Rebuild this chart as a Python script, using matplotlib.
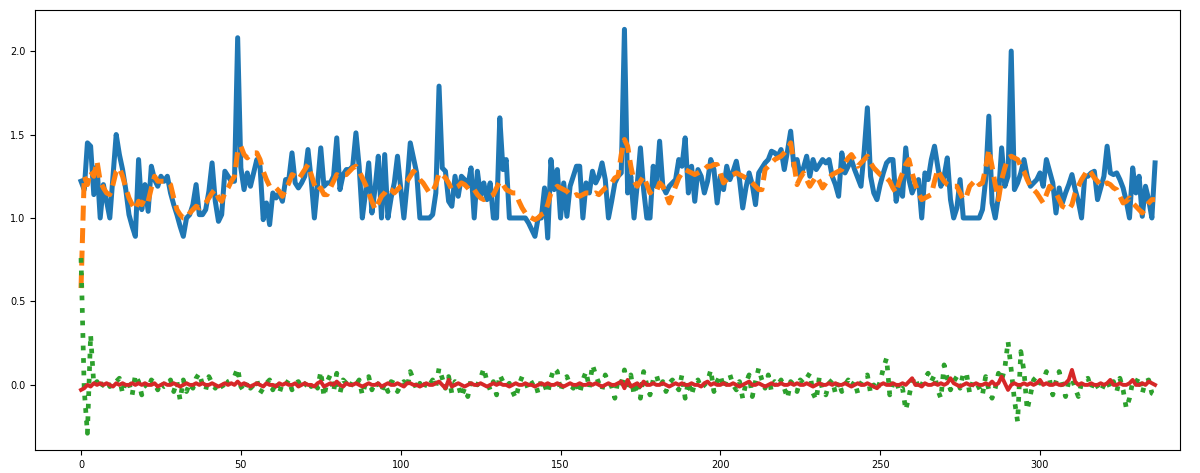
import matplotlib
matplotlib.use("Agg")
import matplotlib.pyplot as plt
import numpy as np

# observed series (blue)
observed = [
    1.22, 1.17, 1.45, 1.43, 1.14, 1.31, 1.00, 1.20, 1.10, 1.00,
    1.25, 1.50, 1.38, 1.29, 1.17, 1.02, 0.95, 0.89, 1.35, 1.05,
    1.20, 1.04, 1.31, 1.23, 1.19, 1.25, 1.22, 1.25, 1.15, 1.08,
    1.02, 0.95, 0.89, 1.00, 1.02, 1.08, 1.20, 1.02, 1.02, 1.05,
    1.16, 1.33, 1.10, 0.98, 1.02, 1.28, 1.25, 1.22, 1.22, 2.08,
    1.30, 1.17, 1.27, 1.19, 1.27, 1.35, 1.31, 0.99, 1.09, 0.96,
    1.15, 1.12, 1.15, 1.10, 1.23, 1.23, 1.39, 1.21, 1.18, 1.21,
    1.25, 1.41, 1.23, 1.00, 1.20, 1.42, 1.19, 1.21, 1.21, 1.25,
    1.48, 1.17, 1.26, 1.29, 1.29, 1.31, 1.51, 1.31, 1.00, 1.15,
    1.33, 1.03, 1.18, 1.37, 1.00, 1.38, 1.00, 1.12, 1.21, 1.37,
    1.18, 1.00, 1.20, 1.45, 1.36, 1.27, 1.00, 1.00, 1.00, 1.00,
    1.02, 1.15, 1.79, 1.30, 1.28, 1.10, 1.07, 1.25, 1.13, 1.25,
    1.23, 1.19, 1.30, 1.00, 1.28, 1.13, 1.21, 1.11, 1.21, 1.00,
    1.00, 1.60, 1.29, 1.35, 1.00, 1.00, 1.00, 1.00, 1.00, 1.00,
    0.97, 0.93, 0.89, 1.00, 1.00, 1.18, 0.88, 1.35, 1.17, 1.29,
    1.00, 1.21, 1.01, 1.19, 1.25, 1.31, 1.31, 1.00, 1.21, 1.15,
    1.28, 1.21, 1.25, 1.33, 1.23, 1.00, 1.10, 1.21, 1.25, 1.27,
    2.13, 1.15, 1.25, 1.00, 1.20, 1.42, 1.17, 1.00, 1.00, 1.31,
    1.19, 1.46, 1.19, 1.15, 1.19, 1.21, 1.23, 1.35, 1.31, 1.48,
    1.15, 1.31, 1.10, 1.29, 1.25, 1.15, 1.22, 1.35, 1.29, 1.09,
    1.25, 1.17, 1.31, 1.23, 1.28, 1.34, 1.23, 1.06, 1.18, 1.27,
    1.20, 1.08, 1.27, 1.30, 1.33, 1.35, 1.40, 1.39, 1.37, 1.41,
    1.29, 1.40, 1.52, 1.31, 1.35, 1.25, 1.30, 1.37, 1.25, 1.35,
    1.29, 1.32, 1.35, 1.33, 1.35, 1.25, 1.20, 1.13, 1.39, 1.27,
    1.31, 1.35, 1.29, 1.24, 1.19, 1.40, 1.66, 1.25, 1.15, 1.11,
    1.20, 1.27, 1.33, 1.35, 1.35, 1.10, 1.21, 1.13, 1.42, 1.23,
    1.15, 1.20, 1.23, 1.00, 1.27, 1.23, 1.35, 1.43, 1.31, 1.19,
    1.25, 1.36, 1.11, 1.00, 1.06, 1.23, 1.00, 1.00, 1.00, 1.00,
    1.00, 1.00, 1.05, 1.23, 1.61, 1.09, 1.00, 1.13, 1.42, 1.19,
    1.25, 2.00, 1.17, 1.21, 1.27, 1.35, 1.25, 1.19, 1.21, 1.23,
    1.27, 1.19, 1.35, 1.28, 1.21, 1.03, 1.18, 1.09, 1.15, 1.20,
    1.26, 1.17, 1.10, 1.00, 1.25, 1.25, 1.27, 1.28, 1.11, 1.18,
    1.25, 1.43, 1.27, 1.26, 1.27, 1.23, 1.18, 1.10, 1.00, 1.30,
    1.15, 1.25, 1.01, 1.19, 1.11, 1.00, 1.33,
]

# smoothed estimate (orange, dashed)
smoothed = [
    0.58, 1.25, 1.20, 1.28, 1.25, 1.34, 1.22, 1.18, 1.15, 1.14,
    1.20, 1.28, 1.30, 1.25, 1.18, 1.12, 1.08, 1.05, 1.10, 1.08,
    1.12, 1.10, 1.18, 1.25, 1.22, 1.22, 1.22, 1.22, 1.20, 1.12,
    1.05, 1.02, 1.00, 1.00, 1.03, 1.05, 1.07, 1.06, 1.07, 1.09,
    1.12, 1.15, 1.17, 1.12, 1.10, 1.15, 1.18, 1.22, 1.25, 1.40,
    1.43, 1.38, 1.36, 1.38, 1.39, 1.39, 1.35, 1.28, 1.23, 1.19,
    1.18, 1.18, 1.16, 1.13, 1.17, 1.21, 1.26, 1.25, 1.23, 1.26,
    1.29, 1.32, 1.26, 1.20, 1.16, 1.18, 1.14, 1.14, 1.18, 1.22,
    1.26, 1.25, 1.26, 1.26, 1.28, 1.30, 1.31, 1.28, 1.24, 1.20,
    1.15, 1.10, 1.05, 1.09, 1.13, 1.15, 1.18, 1.17, 1.15, 1.17,
    1.19, 1.20, 1.22, 1.25, 1.28, 1.26, 1.23, 1.21, 1.18, 1.15,
    1.16, 1.20, 1.27, 1.26, 1.24, 1.21, 1.17, 1.18, 1.19, 1.21,
    1.20, 1.18, 1.16, 1.17, 1.14, 1.12, 1.11, 1.12, 1.13, 1.14,
    1.18, 1.22, 1.20, 1.17, 1.16, 1.15, 1.15, 1.10, 1.06, 1.03,
    1.01, 1.00, 0.99, 1.00, 1.02, 1.03, 1.08, 1.15, 1.17, 1.19,
    1.18, 1.17, 1.16, 1.14, 1.13, 1.14, 1.13, 1.14, 1.15, 1.15,
    1.14, 1.15, 1.14, 1.16, 1.18, 1.19, 1.21, 1.24, 1.25, 1.38,
    1.47, 1.43, 1.31, 1.22, 1.19, 1.22, 1.25, 1.20, 1.15, 1.17,
    1.16, 1.21, 1.19, 1.14, 1.09, 1.14, 1.19, 1.24, 1.27, 1.29,
    1.28, 1.27, 1.26, 1.27, 1.28, 1.29, 1.31, 1.31, 1.32, 1.32,
    1.27, 1.21, 1.23, 1.25, 1.26, 1.27, 1.26, 1.25, 1.24, 1.23,
    1.21, 1.19, 1.17, 1.17, 1.29, 1.31, 1.33, 1.35, 1.36, 1.37,
    1.39, 1.41, 1.45, 1.33, 1.20, 1.24, 1.27, 1.23, 1.19, 1.22,
    1.25, 1.22, 1.18, 1.21, 1.24, 1.26, 1.27, 1.28, 1.29, 1.33,
    1.36, 1.38, 1.35, 1.31, 1.33, 1.35, 1.37, 1.33, 1.30, 1.28,
    1.26, 1.25, 1.24, 1.22, 1.18, 1.15, 1.22, 1.27, 1.32, 1.35,
    1.27, 1.20, 1.15, 1.11, 1.12, 1.13, 1.14, 1.22, 1.29, 1.25,
    1.22, 1.20, 1.19, 1.19, 1.19, 1.15, 1.11, 1.13, 1.19, 1.21,
    1.23, 1.20, 1.21, 1.30, 1.41, 1.31, 1.20, 1.11, 1.23, 1.30,
    1.36, 1.37, 1.36, 1.35, 1.31, 1.28, 1.23, 1.19, 1.17, 1.15,
    1.12, 1.09, 1.14, 1.19, 1.17, 1.15, 1.11, 1.07, 1.06, 1.05,
    1.08, 1.15, 1.19, 1.23, 1.26, 1.29, 1.27, 1.24, 1.22, 1.19,
    1.20, 1.21, 1.20, 1.18, 1.17, 1.13, 1.09, 1.10, 1.12, 1.09,
    1.07, 1.05, 1.03, 1.06, 1.09, 1.11, 1.11,
]

# residual (green, dotted)
residual = [
    0.76, -0.03, -0.29, 0.30, 0.00, 0.02, -0.02, 0.01, 0.03, -0.01,
    0.00, 0.02, 0.04, -0.05, 0.03, 0.01, -0.06, 0.06, 0.02, -0.06,
    0.00, -0.02, 0.03, 0.01, -0.03, 0.02, -0.01, 0.00, 0.03, -0.04,
    0.02, -0.09, 0.03, -0.04, 0.01, -0.02, 0.04, 0.07, 0.00, -0.03,
    0.05, 0.01, -0.02, 0.02, 0.00, -0.03, 0.02, 0.03, 0.05, 0.10,
    -0.01, -0.04, 0.02, -0.02, 0.00, 0.03, -0.05, -0.02, 0.01, 0.03,
    -0.03, 0.02, -0.05, 0.01, 0.00, 0.03, -0.03, 0.01, 0.02, -0.02,
    0.00, 0.03, -0.01, 0.02, -0.02, 0.08, -0.07, 0.02, 0.06, -0.04,
    0.07, -0.05, 0.03, 0.01, -0.02, 0.02, 0.00, 0.03, -0.06, 0.01,
    0.05, -0.03, 0.02, 0.00, -0.04, 0.01, -0.04, 0.02, 0.01, -0.04,
    0.00, 0.02, -0.02, 0.08, 0.03, -0.03, 0.01, -0.03, 0.02, 0.00,
    0.03, -0.01, 0.10, 0.04, -0.02, 0.05, -0.05, 0.02, 0.00, -0.07,
    -0.02, -0.07, 0.03, 0.01, 0.00, 0.04, 0.10, 0.02, -0.03, 0.02,
    -0.06, 0.06, 0.02, -0.01, 0.01, -0.04, -0.08, 0.00, 0.05, 0.02,
    -0.03, 0.01, 0.02, -0.05, 0.03, 0.00, -0.05, 0.04, 0.10, 0.08,
    -0.04, 0.03, 0.05, 0.00, -0.02, 0.02, -0.05, 0.03, 0.08, -0.02,
    0.12, 0.06, 0.01, -0.03, 0.06, 0.02, -0.01, -0.08, 0.03, 0.01,
    0.09, -0.03, 0.06, -0.06, 0.02, -0.08, 0.08, 0.00, -0.06, 0.03,
    0.06, -0.01, 0.02, -0.04, 0.01, 0.03, 0.00, -0.03, 0.06, -0.08,
    0.02, -0.06, 0.01, 0.03, -0.02, 0.00, 0.02, 0.09, -0.04, 0.02,
    0.06, -0.02, 0.03, 0.06, 0.00, -0.03, 0.02, -0.08, 0.01, 0.06,
    -0.07, 0.02, 0.10, 0.03, -0.02, 0.06, -0.04, 0.02, 0.00, 0.03,
    -0.02, -0.08, 0.02, 0.00, -0.04, 0.03, 0.01, 0.04, 0.07, -0.05,
    -0.09, 0.05, -0.03, -0.06, 0.01, 0.03, -0.05, 0.02, -0.04, 0.00,
    0.03, -0.01, 0.02, -0.05, 0.01, 0.04, 0.06, -0.05, 0.00, -0.03,
    0.02, 0.10, 0.16, -0.06, 0.01, 0.03, -0.04, -0.02, -0.15, -0.07,
    0.02, 0.05, -0.03, 0.00, 0.04, 0.07, 0.02, 0.06, -0.03, -0.08,
    0.12, 0.04, -0.03, 0.02, 0.05, -0.02, 0.07, 0.07, -0.05, 0.02,
    0.02, -0.02, -0.06, 0.05, -0.03, -0.08, -0.02, 0.07, 0.03, 0.10,
    0.26, 0.09, -0.09, -0.22, 0.20, 0.08, -0.15, -0.06, 0.03, 0.05,
    0.01, 0.02, 0.08, 0.03, -0.06, 0.02, 0.08, 0.00, -0.07, 0.02,
    0.04, -0.02, -0.07, 0.01, 0.03, 0.04, -0.02, 0.03, -0.01, -0.04,
    0.00, 0.03, -0.02, 0.02, -0.04, 0.04, -0.03, -0.14, -0.08, 0.02,
    0.01, 0.05, -0.05, 0.02, 0.03, -0.05, -0.06,
]

# bias / drift (red)
drift = [
    -0.03, -0.02, 0.00, -0.01, 0.01, 0.00, 0.01, 0.00, 0.01, 0.00,
    -0.01, 0.01, 0.00, 0.01, 0.00, 0.00, 0.01, 0.00, 0.01, 0.00,
    0.01, 0.00, 0.00, 0.01, -0.01, 0.00, 0.01, 0.00, 0.00, 0.01,
    0.00, -0.01, 0.00, 0.01, 0.00, 0.00, 0.01, 0.00, 0.01, 0.00,
    0.00, 0.01, 0.00, -0.01, 0.00, 0.01, 0.00, 0.01, 0.00, 0.02,
    0.00, 0.01, 0.00, -0.01, 0.00, 0.01, 0.00, -0.01, 0.01, 0.00,
    0.00, -0.01, 0.01, 0.00, 0.01, 0.00, 0.00, 0.01, -0.01, 0.00,
    0.01, 0.00, 0.00, -0.01, 0.01, 0.02, -0.01, 0.00, 0.01, 0.00,
    0.02, 0.00, -0.01, 0.01, 0.00, 0.00, 0.01, 0.00, -0.01, 0.00,
    0.01, 0.00, 0.00, 0.01, -0.01, 0.00, 0.01, 0.00, 0.00, 0.01,
    0.00, -0.01, 0.01, 0.01, 0.00, 0.00, -0.01, 0.00, 0.01, 0.00,
    0.00, 0.01, 0.02, 0.00, -0.02, 0.03, -0.01, 0.00, 0.01, 0.00,
    -0.01, 0.00, 0.01, 0.00, 0.00, 0.01, 0.00, -0.01, 0.00, 0.01,
    0.00, 0.01, 0.00, 0.00, -0.01, 0.00, 0.01, 0.00, 0.00, 0.01,
    0.00, 0.00, -0.01, 0.00, 0.01, 0.00, 0.01, 0.00, 0.00, 0.01,
    0.00, -0.01, 0.00, 0.01, 0.00, 0.00, 0.01, 0.00, 0.00, 0.01,
    0.00, 0.01, 0.00, -0.01, 0.00, 0.01, 0.00, 0.00, 0.01, 0.02,
    -0.02, 0.03, -0.01, 0.00, 0.01, -0.01, 0.02, 0.00, 0.00, 0.01,
    0.00, 0.00, 0.01, 0.00, -0.01, 0.00, 0.01, 0.00, 0.01, 0.00,
    0.00, 0.01, 0.00, 0.00, -0.01, 0.01, 0.02, 0.00, 0.01, 0.00,
    0.00, 0.01, 0.00, 0.00, 0.01, 0.00, -0.01, 0.00, 0.01, 0.02,
    0.00, 0.00, 0.01, 0.00, -0.01, 0.00, 0.01, 0.00, 0.00, 0.01,
    0.00, 0.00, 0.01, 0.00, 0.01, 0.00, 0.00, 0.01, 0.00, -0.01,
    0.00, 0.01, 0.00, 0.00, 0.01, 0.00, 0.01, 0.00, 0.00, 0.01,
    0.00, -0.01, 0.00, 0.01, 0.00, 0.00, 0.01, 0.00, -0.01, -0.02,
    0.00, 0.01, 0.00, 0.00, 0.01, 0.00, 0.00, 0.01, 0.00, 0.02,
    0.04, 0.00, 0.00, -0.01, 0.01, 0.00, 0.00, 0.01, 0.00, 0.01,
    0.00, 0.01, 0.04, 0.01, 0.00, -0.01, 0.00, 0.01, 0.00, 0.00,
    0.01, 0.00, 0.00, 0.01, 0.00, 0.02, 0.00, 0.01, 0.05, 0.01,
    -0.03, 0.00, 0.01, 0.00, 0.00, 0.01, 0.00, 0.01, 0.00, 0.01,
    0.03, 0.00, 0.01, 0.00, 0.00, 0.01, 0.00, 0.00, 0.01, 0.03,
    0.09, 0.02, 0.00, 0.01, 0.00, 0.00, 0.01, 0.00, 0.00, 0.01,
    0.00, 0.01, 0.03, 0.00, 0.00, 0.01, 0.00, 0.00, 0.01, 0.03,
    0.00, 0.00, 0.01, 0.00, 0.02, 0.01, 0.00,
]

x = np.arange(len(observed))

fig = plt.figure(figsize=(12, 4.73), dpi=100)
ax = fig.add_axes([35 / 1200, 1 - 450 / 473, 1145 / 1200, 440 / 473])

ax.plot(x, observed, color="C0", lw=3.6)
ax.plot(x[:len(smoothed)], smoothed, color="C1", lw=3.6, ls="--", dashes=(3, 1.5))
ax.plot(x[:len(residual)], residual, color="C2", lw=3.4, ls=":")
ax.plot(x[:len(drift)], drift, color="C3", lw=2.8)

ax.set_xlim(-14.4, 343.8)
ax.set_ylim(-0.39, 2.246)
ax.set_yticks([0.0, 0.5, 1.0, 1.5, 2.0])
ax.set_xticks([0, 50, 100, 150, 200, 250, 300])
ax.tick_params(labelsize=7)

fig.savefig("out.png", dpi=100)
